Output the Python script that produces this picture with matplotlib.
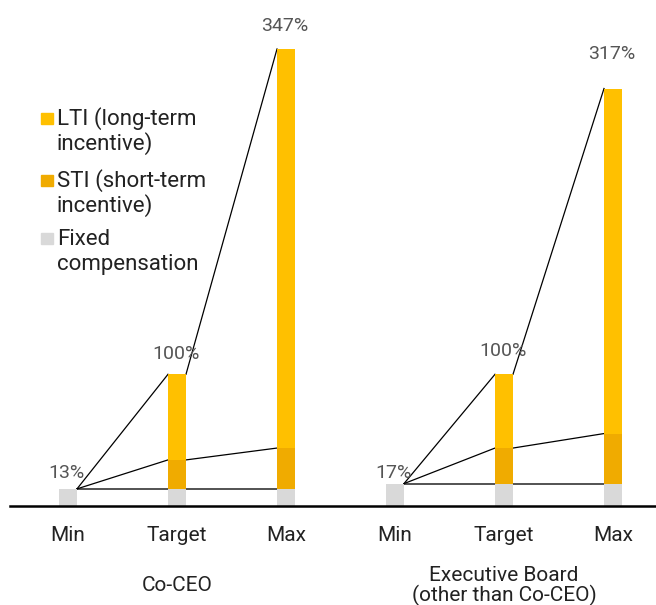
import numpy as np
import matplotlib
matplotlib.use('Agg')
import matplotlib.pyplot as plt
from matplotlib.patches import Rectangle

plt.rcParams['font.family'] = ['Roboto', 'DejaVu Sans']

# Data (% of target compensation)
groups = ['Co-CEO', 'Executive Board\n(other than Co-CEO)']
levels = ['Min', 'Target', 'Max']
fixed = [13, 13, 13, 17, 17, 17]
sti = [0, 22, 31, 0, 27, 38]
lti = [0, 65, 303, 0, 56, 262]
total_labels = ['13%', '100%', '347%', '17%', '100%', '317%']

c_lti = '#FFC000'
c_sti = '#F0AB00'
c_fixed = '#D9D9D9'

W, H = 656, 605
fig = plt.figure(figsize=(W / 100, H / 100), dpi=100)
base = 506.0
ax = fig.add_axes([10 / W, (H - base) / H, 646 / W, base / H])

x = np.arange(len(fixed))
bw = 0.165
fixed_a = np.array(fixed)
sti_top = fixed_a + np.array(sti)
tot = sti_top + np.array(lti)

ax.bar(x, fixed, bw, color=c_fixed, zorder=3)
ax.bar(x, sti, bw, bottom=fixed, color=c_sti, zorder=3)
ax.bar(x, lti, bw, bottom=sti_top, color=c_lti, zorder=3)

# connector lines
for g in range(2):
    i0, i1, i2 = 3 * g, 3 * g + 1, 3 * g + 2
    xr0 = x[i0] + bw / 2
    ax.plot([xr0, x[i2] - bw / 2], [fixed_a[i0], fixed_a[i2]], color='#444444', lw=1.3, zorder=2)
    ax.plot([xr0, x[i1] - bw / 2], [fixed_a[i0], sti_top[i1]], color='black', lw=0.9, zorder=2)
    ax.plot([xr0, x[i1] - bw / 2], [fixed_a[i0], tot[i1]], color='black', lw=0.9, zorder=2)
    ax.plot([x[i1] + bw / 2, x[i2] - bw / 2], [sti_top[i1], sti_top[i2]], color='black', lw=0.9, zorder=2)
    ax.plot([x[i1] + bw / 2, x[i2] - bw / 2], [tot[i1], tot[i2]], color='black', lw=0.9, zorder=2)

# value labels (gap from bar top to text baseline, px)
gaps = [11, 15, 18, 6, 18, 30]
for xi, t, lab, gp in zip(x, tot, total_labels, gaps):
    ax.annotate(lab, (xi, t), xytext=(-1, gp * 0.72), textcoords='offset points',
                ha='center', va='baseline', fontsize=14, color='#555555')

ax.set_xlim(-(68 - 10) / 109, 5 + (656 - 613) / 109)
ax.set_ylim(0, base / 1.317)
ax.set_xticks(x, levels * 2)
ax.tick_params(axis='x', length=0, pad=14.5, labelsize=15, labelcolor='#222222')
ax.set_yticks([])
for s in ['top', 'left', 'right']:
    ax.spines[s].set_visible(False)
ax.spines['bottom'].set_linewidth(1.8)
ax.spines['bottom'].set_zorder(4)

for g, name in enumerate(groups):
    ax.annotate(name, (x[3 * g + 1], 0), xycoords='data', xytext=(0, -57.5),
                textcoords='offset points', ha='center', va='center',
                fontsize=15, color='#222222', linespacing=1.0)

# legend
leg = [(c_lti, ['LTI (long-term', 'incentive)'], 125),
       (c_sti, ['STI (short-term', 'incentive)'], 187),
       (c_fixed, ['Fixed', 'compensation'], 245)]
for col, lines, bl in leg:
    fig.patches.append(Rectangle((41 / W, (H - bl + 1) / H), 11.5 / W, 11.5 / H,
                                 transform=fig.transFigure, color=col))
    for k, ln in enumerate(lines):
        fig.text(57 / W, (H - bl - 25 * k) / H, ln, va='baseline', ha='left',
                 fontsize=16, color='#222222')

fig.savefig('out.png', dpi=100)
